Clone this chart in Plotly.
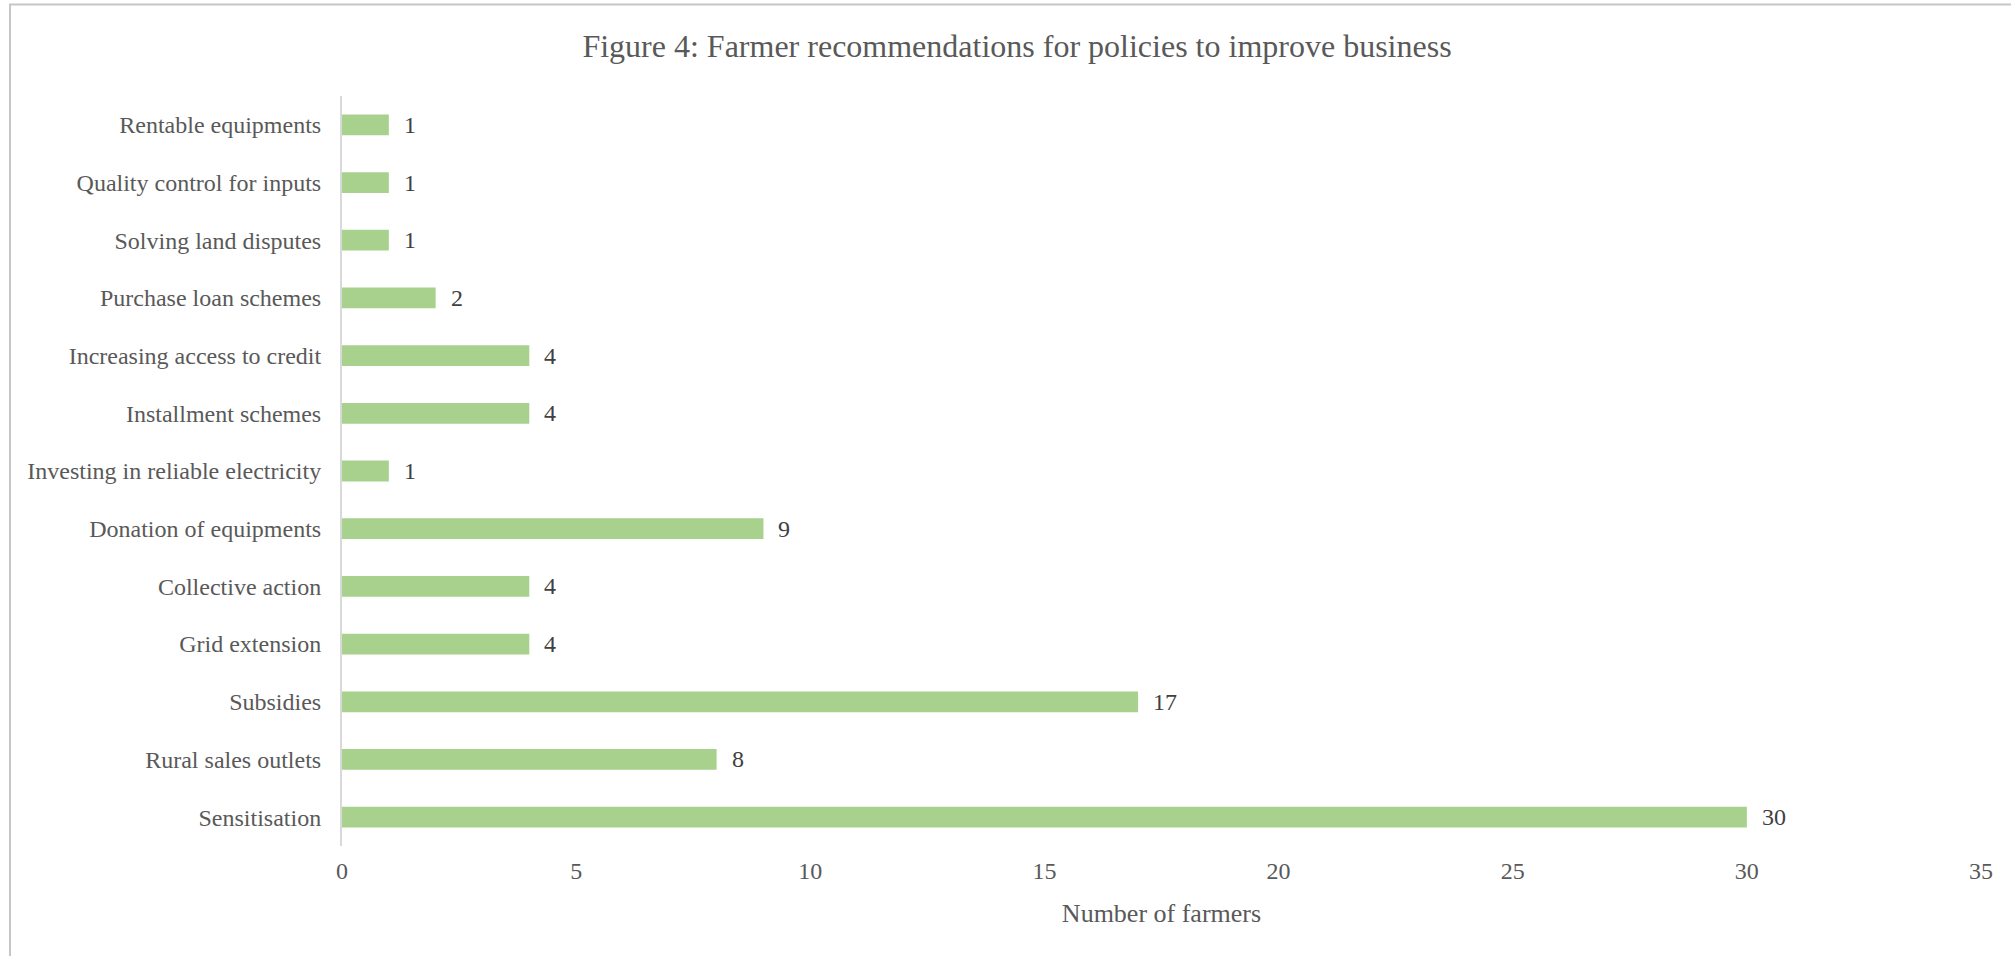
import plotly.graph_objects as go

# Policy recommendations, listed bottom to top as drawn on the y axis
categories = [
    "Sensitisation",
    "Rural sales outlets",
    "Subsidies",
    "Grid extension",
    "Collective action",
    "Donation of equipments",
    "Investing in reliable electricity",
    "Installment schemes",
    "Increasing access to credit",
    "Purchase loan schemes",
    "Solving land disputes",
    "Quality control for inputs",
    "Rentable equipments",
]
farmers = [30, 8, 17, 4, 4, 9, 1, 4, 4, 2, 1, 1, 1]

x_ticks = [0, 5, 10, 15, 20, 25, 30, 35]

title_text = "Figure 4: Farmer recommendations for policies to improve business"
x_title = "Number of farmers"

W, H = 2011, 956
ML, MR, MT, MB = 342, 30, 96, 110
FONT = "Liberation Serif, Times New Roman, serif"
GREY = "#595959"
BAR = "#A9D18E"

fig = go.Figure(
    go.Bar(
        x=farmers,
        y=categories,
        orientation="h",
        marker=dict(color=BAR, line=dict(width=0)),
        width=0.36,
        hoverinfo="x+y",
    )
)

# value labels just right of each bar
for cat, val in zip(categories, farmers):
    fig.add_annotation(
        x=val, y=cat, text=str(val), showarrow=False,
        xanchor="left", yanchor="middle", xshift=13,
        font=dict(family=FONT, size=24, color="#404040"),
    )

# thin frame around the whole chart
pw, ph = W - ML - MR, H - MT - MB
def px_to_paper_x(px):
    return (px - ML) / pw
def px_to_paper_y(py):
    return (H - MB - py) / ph

fig.add_shape(
    type="rect", xref="paper", yref="paper",
    x0=px_to_paper_x(10), x1=px_to_paper_x(W + 5),
    y0=px_to_paper_y(H + 5), y1=px_to_paper_y(4.5),
    line=dict(color="#C6C6C6", width=2), fillcolor="rgba(0,0,0,0)",
    layer="above",
)

fig.update_layout(
    width=W, height=H,
    margin=dict(l=ML, r=MR, t=MT, b=MB, pad=0),
    paper_bgcolor="white", plot_bgcolor="white",
    showlegend=False,
    font=dict(family=FONT, color=GREY),
    title=dict(
        text=title_text, x=1017 / W, xanchor="center",
        y=1 - 46 / H, yanchor="middle", yref="container",
        font=dict(family=FONT, size=32, color=GREY),
    ),
    xaxis=dict(
        range=[0, 35], tickvals=x_ticks, ticktext=[str(t) for t in x_ticks],
        showgrid=False, zeroline=False, showline=False,
        tickfont=dict(family=FONT, size=24, color=GREY),
        title=dict(text=x_title, font=dict(family=FONT, size=26, color=GREY), standoff=20),
        ticks="", ticklabelstandoff=8,
        fixedrange=True,
    ),
    yaxis=dict(
        categoryorder="array", categoryarray=categories,
        range=[-0.5, len(categories) - 0.5],
        showgrid=False, zeroline=False,
        showline=True, linecolor="#D9D9D9", linewidth=2,
        tickfont=dict(family=FONT, size=24, color=GREY),
        ticks="", ticklabelstandoff=14,
        fixedrange=True,
    ),
)

fig.write_html("out.html")
